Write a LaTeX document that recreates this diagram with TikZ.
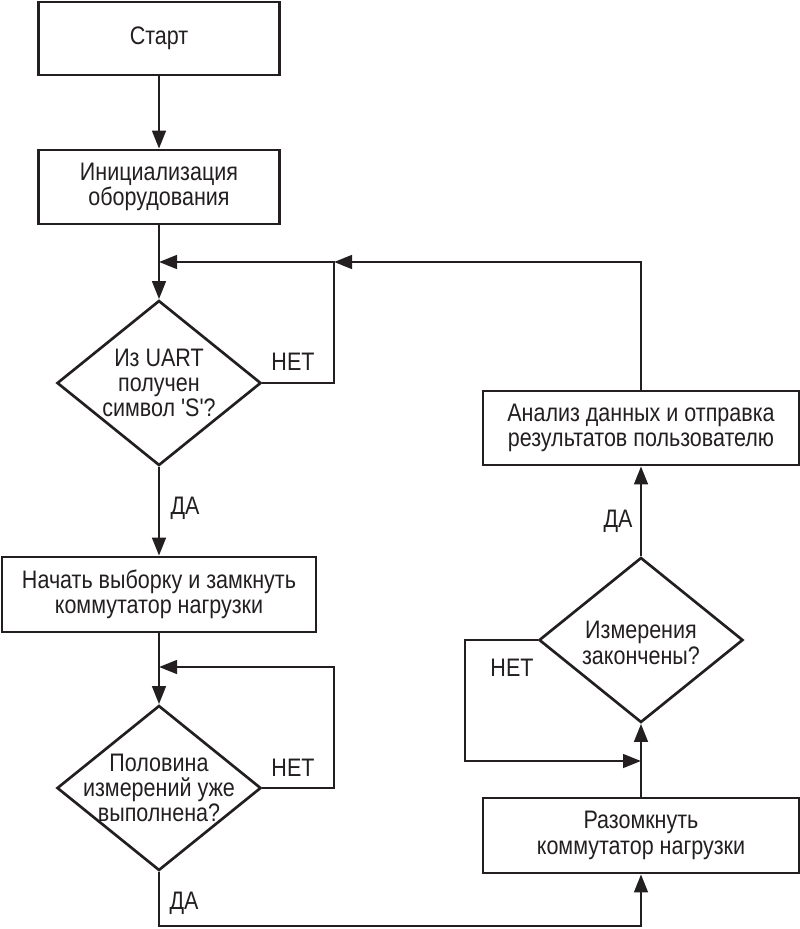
\documentclass[tikz,border=0pt]{standalone}
\usepackage{fontspec}
\setmainfont{Liberation Sans}[FakeStretch=0.85, Ligatures=TeXOff]
\usetikzlibrary{arrows.meta, positioning, shapes.geometric}
\definecolor{ink}{HTML}{231F20}

\begin{document}
\begin{tikzpicture}[x=0.025cm, y=-0.025cm,
  font=\fontsize{18}{18}\selectfont, color=ink,
  box/.style={draw, line width=1.9pt, align=center, inner sep=0pt},
  decision/.style={draw, diamond, line width=1.9pt, inner sep=0pt, minimum width=5.1cm, minimum height=4.125cm},
  txt/.style={align=center, inner sep=0pt},
  arr/.style={line width=1.9pt, -{Triangle[length=4.5mm, width=3.4mm]}}]
  \useasboundingbox (0,0) rectangle (800,929);

  % Left column
  \node[box, minimum width=6.025cm, minimum height=1.825cm] (start) at (159,38.5) {Старт};
  \node[box, minimum width=6.025cm, minimum height=1.85cm] (init) at (159,187) {Инициализация\\оборудования};
  \node[decision] (q1) at (159,383) {};
  \node[txt] (q1txt) at (159,383) {Из UART\\получен\\символ 'S'?};
  \node[box, minimum width=7.85cm, minimum height=1.875cm] (sample) at (159,594.5) {Начать выборку и замкнуть\\коммутатор нагрузки};
  \node[decision] (q2) at (159,788) {};
  \node[txt] (q2txt) at (159,788) {Половина\\измерений уже\\выполнена?};

  % Right column
  \node[box, minimum width=7.9cm, minimum height=1.875cm] (open) at (641,835.5) {Разомкнуть\\коммутатор нагрузки};
  \node[decision] (q3) at (641,640) {};
  \node[txt] (q3txt) at (641,643) {Измерения\\закончены?};
  \node[box, minimum width=7.9cm, minimum height=1.85cm] (report) at (641,428) {Анализ данных и отправка\\результатов пользователю};

  % Junctions
  \coordinate (j1) at (159,262);
  \coordinate (loop1) at (334,262);
  \coordinate (j2) at (159,667);
  \coordinate (loop2) at (334,667);
  \coordinate (j3) at (641,761);
  \coordinate (loop3) at (465,761);
  \coordinate (bottom) at (641,926);

  % Connectors
  \draw[arr] (start) -- (init);
  \draw[arr] (init) -- (q1.north);
  \draw[arr] (q1.east) -| (loop1) -- (j1);
  \draw[arr] (report.north) |- (loop1);
  \draw[arr] (q1.south) -- (sample.north);
  \draw[arr] (sample) -- (q2.north);
  \draw[arr] (q2.east) -| (loop2) -- (j2);
  \draw[arr] (q2.south) |- (bottom) -- (open.south);
  \draw[arr] (open.north) -- (q3.south);
  \draw[arr] (q3.west) -| (loop3) -- (j3);
  \draw[arr] (q3.north) -- (report.south);

  % Answers
  \node (no1) at (293,362) {НЕТ};
  \node (yes1) at (185,508) {ДА};
  \node (no2) at (293,768) {НЕТ};
  \node (yes2) at (184,903) {ДА};
  \node (no3) at (512,668) {НЕТ};
  \node (yes3) at (618,521) {ДА};
\end{tikzpicture}
\end{document}
